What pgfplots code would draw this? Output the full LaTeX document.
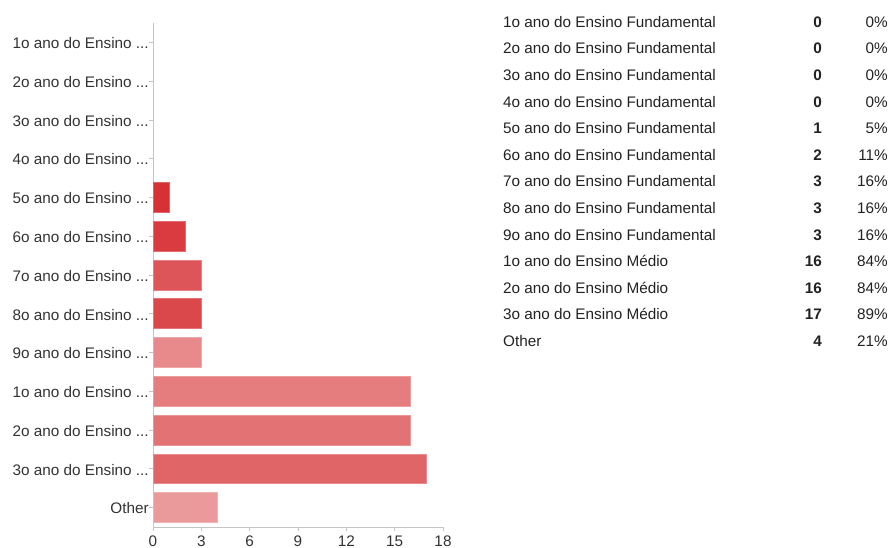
\documentclass[border=0pt]{standalone}
\usepackage{fontspec}
\setmainfont{Liberation Sans}
\usepackage{pgfplots}
\pgfplotsset{compat=1.18}

\definecolor{txt}{HTML}{222222}
\definecolor{lbl}{HTML}{333333}
\definecolor{axisgray}{HTML}{C4C4C4}
\definecolor{b5}{HTML}{D63236}
\definecolor{b6}{HTML}{D93B40}
\definecolor{b7}{HTML}{DD5558}
\definecolor{b8}{HTML}{DB484B}
\definecolor{b9}{HTML}{E88A8B}
\definecolor{m1}{HTML}{E57C7E}
\definecolor{m2}{HTML}{E37274}
\definecolor{m3}{HTML}{E06567}
\definecolor{ot}{HTML}{EA9A9B}

% truncated category name as shown on the axis
\newcommand{\cut}[1]{#1o ano do Ensino ...}

\begin{document}
\fontsize{15.3bp}{18bp}\selectfont
\begin{tikzpicture}[x=1bp,y=1bp]
\path[use as bounding box] (0,0) rectangle (890,548);
\begin{axis}[
  at={(153bp,525bp)}, anchor=north west,
  width=290bp, height=504bp, scale only axis,
  xbar, bar shift=0pt, bar width=0.77,
  xmin=0, xmax=18, ymin=-0.5, ymax=12.5, y dir=reverse,
  xtick={0,3,6,9,12,15,18},
  ytick={0,1,2,3,4,5,6,7,8,9,10,11,12},
  yticklabels={\cut{1},\cut{2},\cut{3},\cut{4},\cut{5},\cut{6},\cut{7},\cut{8},\cut{9},\cut{1},\cut{2},\cut{3},Other},
  axis x line*=bottom, axis y line*=left,
  axis line style={axisgray, line width=0.8bp},
  tick style={axisgray, line width=0.8bp},
  tick align=outside, major tick length=4bp,
  /pgf/number format/assume math mode=true,
  ticklabel style={font=\fontsize{15.3bp}{18bp}\selectfont, text=lbl},
  yticklabel style={xshift=5bp, yshift=-0.8bp},
  xticklabel style={yshift=0.8bp},
  clip=false,
]
% Fundamental 1o-4o: no answers
\addplot[draw=none, fill=none] coordinates {(0,0)};
\addplot[draw=none, fill=none] coordinates {(0,1)};
\addplot[draw=none, fill=none] coordinates {(0,2)};
\addplot[draw=none, fill=none] coordinates {(0,3)};
\addplot[fill=b5, draw=b5!75!white, line width=0.8bp] coordinates {(1,4)};
\addplot[fill=b6, draw=b6!75!white, line width=0.8bp] coordinates {(2,5)};
\addplot[fill=b7, draw=b7!75!white, line width=0.8bp] coordinates {(3,6)};
\addplot[fill=b8, draw=b8!75!white, line width=0.8bp] coordinates {(3,7)};
\addplot[fill=b9, draw=b9!75!white, line width=0.8bp] coordinates {(3,8)};
\addplot[fill=m1, draw=m1!75!white, line width=0.8bp] coordinates {(16,9)};
\addplot[fill=m2, draw=m2!75!white, line width=0.8bp] coordinates {(16,10)};
\addplot[fill=m3, draw=m3!75!white, line width=0.8bp] coordinates {(17,11)};
\addplot[fill=ot, draw=ot!75!white, line width=0.8bp] coordinates {(4,12)};
\end{axis}
% summary table: answer, count, share
\foreach \name/\cnt/\pct [count=\i from 0] in {
  1o ano do Ensino Fundamental/0/0,
  2o ano do Ensino Fundamental/0/0,
  3o ano do Ensino Fundamental/0/0,
  4o ano do Ensino Fundamental/0/0,
  5o ano do Ensino Fundamental/1/5,
  6o ano do Ensino Fundamental/2/11,
  7o ano do Ensino Fundamental/3/16,
  8o ano do Ensino Fundamental/3/16,
  9o ano do Ensino Fundamental/3/16,
  1o ano do Ensino Médio/16/84,
  2o ano do Ensino Médio/16/84,
  3o ano do Ensino Médio/17/89,
  Other/4/21}{
  \pgfmathsetmacro{\yy}{548-27.4-26.6*\i}
  \node[anchor=base west, inner sep=0, text=txt] at (503,\yy) {\name};
  \node[anchor=base east, inner sep=0, text=txt] at (822,\yy) {\bfseries\cnt};
  \node[anchor=base east, inner sep=0, text=txt] at (888,\yy) {\pct\%};
}
\end{tikzpicture}
\end{document}
